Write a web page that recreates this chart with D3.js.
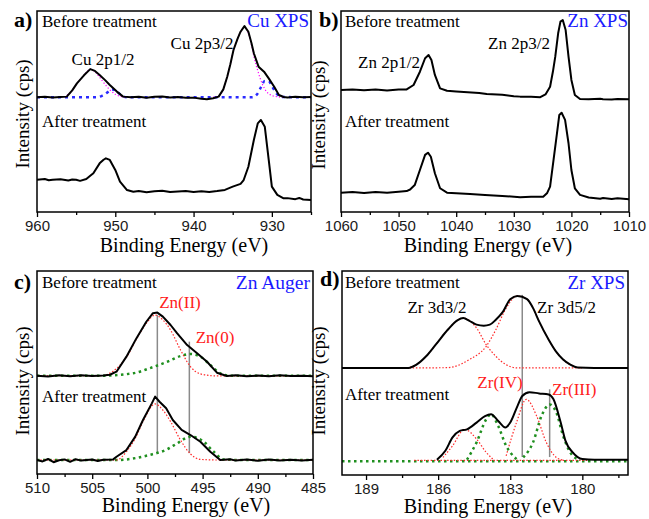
<!DOCTYPE html>
<html>
<head>
<meta charset="utf-8">
<script src="https://cdnjs.cloudflare.com/ajax/libs/d3/7.8.5/d3.min.js"></script>
<style>
  body { margin: 0; background: #fff; }
  svg { display: block; background: #fff; }
  .frame { fill: none; stroke: #000; stroke-width: 1.5px; }
  .spectrum { fill: none; stroke: #000; stroke-width: 2px; stroke-linejoin: round; }
  .fit-magenta { fill: none; stroke: #ff00ff; stroke-width: 1.2px; stroke-dasharray: 1.2 2; }
  .fit-blue { fill: none; stroke: #2a2aff; stroke-width: 2.5px; stroke-dasharray: 3 4; }
  .fit-red { fill: none; stroke: #ff2a2a; stroke-width: 1.2px; stroke-dasharray: 1.5 1.8; }
  .fit-green { fill: none; stroke: #1f8f1f; stroke-width: 2.5px; stroke-dasharray: 2.5 3.5; }
  .marker { stroke: #8a8a8a; stroke-width: 1.5px; }
  .tick line { stroke: #000; stroke-width: 1.3px; }
  .tick text { font-family: Arial, "Liberation Sans", sans-serif; font-size: 15px; fill: #1a1a1a; }
  .serif { font-family: "Times New Roman", "Liberation Serif", serif; fill: #000; }
</style>
</head>
<body>
<svg></svg>
<script>
(function() {

  // ---- a) Cu XPS  [binding energy (eV), intensity (a.u.)]
  const cuBefore = [[960,57.1],[959,57.3],[958,57.0],[957,57.2],[956.2,57.4],[955.5,60.5],[954.9,64.0],[954,68.0],[953.2,71.1],[952.6,70.2],[952,68.2],[951.3,65.6],[950.7,63.2],[949.8,59.9],[949,57.4],[948,57.1],[947,57.3],[946,56.9],[945,57.3],[944,57.5],[943,57.0],[942,57.2],[941,56.8],[940,56.9],[939,56.4],[938.3,56.1],[937.5,56.6],[936.8,57.4],[936.2,61],[935.7,67.3],[935.3,73.5],[934.9,80.6],[934.4,86],[934,89.7],[933.5,92.5],[933,89.7],[932.6,84],[932.3,79.0],[931.7,72.3],[931,69.8],[930.4,66.5],[929.7,62.3],[929.1,58.2],[928.5,57.2],[928,57.0],[927,57.3],[926,57.1],[925,57.2]]
  const cuAfter = [[960,16.0],[959,16.4],[958.5,15.8],[958,16.1],[957,16.3],[956,15.7],[955.5,16.2],[955,16.0],[954.5,15.5],[953.7,16.4],[953.2,18.0],[952.8,19.3],[952,24.2],[951.5,26.0],[951.2,26.7],[950.7,25.9],[950,20.9],[949.4,15.1],[948.5,10.9],[947.7,10.1],[947,10.4],[946,9.8],[945,10.3],[944,10.6],[943,9.9],[942,10.2],[941,10.4],[940,10.0],[939,10.3],[938,9.9],[937,10.4],[936,11.0],[935,12.6],[934,14.0],[933.6,15.9],[933,22.5],[932.3,35.8],[931.8,44.1],[931.4,45.8],[930.9,42.4],[930.4,25.9],[930,12.6],[929.3,8.5],[928.5,6.8],[928,6.9],[927,6.4],[926.5,7.0],[926,6.2],[925,6.0]]
  const cuFit2p1 = [[956.5,57.2],[955.5,60.5],[954.9,64.0],[954,68.0],[953.2,71.0],[952.6,69.8],[952,67.0],[951.3,63.5],[950.7,60.8],[950,58.6],[949.3,57.5],[948.5,57.1]]
  const cuFit2p3 = [[937.5,57.1],[936.8,57.6],[936.2,61],[935.7,67.3],[935.3,73.5],[934.9,80.6],[934.4,86],[934,89.5],[933.5,92.0],[933,89.0],[932.6,83],[932.3,77.5],[931.7,69],[931.2,63.5],[930.7,60],[930,58],[929.2,57.3],[928.5,57.1]]
  const cuSatellite = [[960,57.1],[952.5,57.1],[951.7,57.8],[951,59.5],[950.4,61.0],[949.8,60.0],[949.2,58.0],[948.5,57.1],[932.5,57.1],[931.9,58.5],[931.4,62],[930.9,65.2],[930.4,65.0],[929.9,62],[929.3,58.5],[928.7,57.2],[925,57.1]]

  // ---- b) Zn XPS
  const znBefore = [[1060,60.7],[1058,61.0],[1056,60.6],[1054,61.0],[1052,60.5],[1050,60.9],[1048.6,61.0],[1047.4,63.2],[1046.3,69.8],[1045.4,76.5],[1044.8,78.1],[1044.3,75.6],[1043.7,68.2],[1042.8,61.5],[1041.6,60.3],[1040,60.0],[1038,59.6],[1036,59.2],[1034.7,58.7],[1032,58.3],[1030,57.6],[1028.9,57.4],[1027,57.3],[1025.4,57.1],[1024.5,58.5],[1023.7,62.3],[1023.2,70],[1022.8,77.3],[1022.3,88.9],[1021.9,94.7],[1021.5,95.5],[1021,90.5],[1020.5,77.3],[1020,65.7],[1019.4,58.2],[1018.5,56.2],[1017,56.1],[1015,56.3],[1014.5,56.1],[1013,56.0],[1012,56.2],[1010,56.1]]
  const znAfter = [[1060,9.6],[1058,9.9],[1056,9.4],[1054,10.0],[1052,9.6],[1050,10.1],[1048.6,10.4],[1048,11.2],[1047.2,13.4],[1046.3,20.9],[1045.4,28.4],[1044.9,29.5],[1044.4,27.5],[1043.7,19.3],[1042.8,11.8],[1041.6,9.6],[1040,9.3],[1037.6,9.0],[1035,8.5],[1032,8.0],[1028.9,7.3],[1027,7.6],[1024.9,7.6],[1024.2,9.5],[1023.7,12.6],[1023.1,25.9],[1022.5,39.2],[1022.1,48.3],[1021.7,49.4],[1021.1,45.8],[1020.5,34.2],[1020,20.9],[1019.4,11.8],[1018.5,8.5],[1017,7.2],[1015,6.6],[1014.5,7.0],[1013,6.5],[1012,6.8],[1010,6.3]]

  // ---- c) Zn Auger
  const augerBefore = [[510,48.4],[509,48.0],[508,48.6],[507,48.2],[506,48.7],[505,48.3],[504,48.5],[503.4,48.9],[502.8,50.4],[501.9,57.8],[501,66.8],[500.1,75.0],[499.5,79.2],[499.1,79.5],[498.6,77.5],[497.9,73.4],[497.3,69.3],[496.4,63.5],[495.5,59.5],[494.6,55.3],[493.7,49.9],[492.8,48.3],[492,48.6],[491,48.1],[490,48.5],[489,48.2],[488,48.7],[487,48.3],[486,48.4],[485,48.2]]
  const augerAfter = [[510,6.9],[509.5,6.2],[509,7.4],[508.5,5.8],[508,6.8],[507.5,7.2],[507,6.0],[506.5,7.3],[506,6.6],[505,7.1],[504.5,6.4],[504,7.0],[503.1,7.2],[502.8,8.5],[501.9,11.8],[501.1,18.4],[500.4,26.6],[499.6,34.8],[499.3,38.1],[498.9,35.6],[498.3,32.4],[497.7,26.6],[496.9,21.7],[496.1,19.2],[495.2,15.9],[494.3,11.0],[493.4,6.9],[492.5,7.3],[492,6.6],[491,7.1],[490,6.5],[489,7.2],[488,6.7],[487,7.0],[486,6.6],[485,7.0]]
  const augerZn2Before = [[510,48.4],[504.3,48.4],[501.9,57.5],[501,66.4],[500.1,74.2],[499.3,78.3],[498.6,75.9],[497.9,70.9],[497.0,61.1],[496.1,52.9],[495.2,49.3],[493.7,48.3],[485,48.3]]
  const augerZn0Before = [[510,48.4],[504.3,48.4],[501.3,49.6],[499.8,52.1],[498.2,55.3],[497.0,58.1],[496.1,59.1],[495.2,57.8],[494.3,53.7],[493.4,49.6],[492.5,48.4],[485,48.4]]
  const augerZn2After = [[510,6.9],[502.8,6.9],[501.9,11.0],[501.1,17.6],[500.4,25.8],[499.3,34.5],[498.6,31.5],[497.9,25.8],[497.0,16.7],[496.1,9.9],[495.2,7.2],[493.7,6.9],[485,6.9]]
  const augerZn0After = [[510,6.9],[502.8,6.9],[499.8,9.4],[498.2,12.2],[497.3,15.1],[496.1,18.4],[494.9,15.9],[494,11.0],[493.1,7.2],[491.6,6.9],[485,6.9]]
  const augerMarkers = [[499.1,78.3,10.3],[496.2,65.2,10.3]]

  // ---- d) Zr XPS
  const zrBefore = [[190,52.5],[189,52.5],[188,52.5],[187.24,52.5],[186.9,54.1],[186.5,58.2],[186.1,63.9],[185.6,71.2],[185.2,75.8],[184.95,76.9],[184.7,75.6],[184.4,73.7],[184.1,73.2],[183.85,73.7],[183.6,76.1],[183.3,80.1],[183.0,86.2],[182.7,87.8],[182.3,86.2],[182.05,81.8],[181.8,75.3],[181.4,66.3],[181.1,60.6],[180.8,56.6],[180.5,54.1],[180.2,52.7],[179.5,52.5],[178.1,52.5]]
  const zrAfter = [[186.05,7.5],[185.7,11.9],[185.4,18.4],[185.1,21.6],[184.8,22.4],[184.4,25.7],[184.05,28.9],[183.8,29.8],[183.5,26.5],[183.2,23.3],[183.0,25.7],[182.7,33.8],[182.5,38.7],[182.2,40.6],[181.8,40.0],[181.4,39.5],[181.2,37.1],[180.9,25.7],[180.7,16.7],[180.4,11.1],[180.0,7.8],[179.5,7.5],[178.1,7.5]]
  const zr3d3Before = [[187.3,52.5],[186.9,54.1],[186.5,58.2],[186.1,63.9],[185.6,71.2],[185.2,75.8],[184.95,76.9],[184.4,72.0],[184.0,63.9],[183.6,58.2],[183.17,54.1],[182.7,52.5],[180.1,52.5]]
  const zr3d5Before = [[187.2,52.5],[185.6,52.6],[185.37,53.0],[184.7,56.6],[184.0,63.1],[183.6,71.2],[183.17,81.8],[182.7,87.8],[182.3,86.2],[182.05,81.8],[181.8,75.3],[181.4,66.3],[181.1,60.6],[180.8,56.6],[180.5,54.1],[180.2,52.7],[180.0,52.5]]
  const zrIVAfter1 = [[185.8,8.6],[185.4,14.3],[184.9,22.4],[184.4,17.6],[184.0,11.1],[183.7,7.5]]
  const zrIVAfter2 = [[183.17,9.4],[182.74,25.7],[182.33,37.1],[181.9,28.9],[181.5,16.0],[181.08,8.6],[180.8,7.3]]
  const zrIIIAfter1 = [[184.8,7.5],[184.4,16.0],[184.0,27.3],[183.8,29.8],[183.5,24.0],[183.17,14.3],[182.74,7.8]]
  const zrIIIAfter2 = [[182.46,8.6],[182.05,16.0],[181.7,28.9],[181.36,34.6],[181.08,30.6],[180.8,19.2],[180.4,9.4],[180.1,7.5]]
  const zrRedBase = [[187,7.2],[179.8,7.2]]
  const zrGreenBase = [[190,6.8],[178.1,6.8]]
  const zrMarkers = [[182.5,88.3,8.8],[181.36,42.0,8.8]]

  // ---- tick labels
  const cuTicks = [960, 950, 940, 930]
  const cuMinor = [955, 945, 935, 925]
  const znTicks = [1060, 1050, 1040, 1030, 1020, 1010]
  const znMinor = [1055, 1045, 1035, 1025, 1015]
  const augerTicks = [510, 505, 500, 495, 490, 485]
  const augerMinor = [507.5, 502.5, 497.5, 492.5, 487.5]
  const zrTicks = [189, 186, 183, 180]
  const zrMinor = [187.5, 184.5, 181.5, 178.5]

  const svgWidth = 649
  const svgHeight = 519

  const svg = d3.select('svg')
    .attr('width', svgWidth)
    .attr('height', svgHeight)

  const panels = [
    {
      id: 'a', left: 37, right: 311, top: 11, bottom: 212, domain: [960, 925],
      ticks: cuTicks, minor: cuMinor, titleX: 184, titleY: 252, yTitleX: 29, yTitleY: 114,
      lines: [
        {data: cuSatellite, cls: 'fit-blue'},
        {data: cuFit2p1, cls: 'fit-magenta'},
        {data: cuFit2p3, cls: 'fit-magenta'},
        {data: cuBefore, cls: 'spectrum', smooth: false},
        {data: cuAfter, cls: 'spectrum', smooth: false}
      ],
      markers: [],
      texts: [
        {t: 'a)', x: 14, y: 27, size: 22, bold: true},
        {t: 'Before treatment', x: 42, y: 27, size: 17},
        {t: 'Cu XPS', x: 309, y: 27, size: 19, anchor: 'end', color: '#1a1aff'},
        {t: 'Cu 2p1/2', x: 103, y: 65, size: 17, anchor: 'middle'},
        {t: 'Cu 2p3/2', x: 202, y: 49, size: 17, anchor: 'middle'},
        {t: 'After treatment', x: 42, y: 127, size: 17}
      ]
    },
    {
      id: 'b', left: 341, right: 629, top: 11, bottom: 212, domain: [1060, 1010],
      ticks: znTicks, minor: znMinor, titleX: 488, titleY: 252, yTitleX: 325, yTitleY: 115,
      lines: [
        {data: znBefore, cls: 'spectrum', smooth: false},
        {data: znAfter, cls: 'spectrum', smooth: false}
      ],
      markers: [],
      texts: [
        {t: 'b)', x: 319, y: 27, size: 22, bold: true},
        {t: 'Before treatment', x: 345, y: 27, size: 17},
        {t: 'Zn XPS', x: 628, y: 27, size: 19, anchor: 'end', color: '#1a1aff'},
        {t: 'Zn 2p1/2', x: 389, y: 68, size: 17, anchor: 'middle'},
        {t: 'Zn 2p3/2', x: 519, y: 49, size: 17, anchor: 'middle'},
        {t: 'After treatment', x: 345, y: 127, size: 17}
      ]
    },
    {
      id: 'c', left: 37, right: 313, top: 271, bottom: 474, domain: [510, 485],
      ticks: augerTicks, minor: augerMinor, titleX: 186, titleY: 512, yTitleX: 29, yTitleY: 381,
      lines: [
        {data: augerZn0Before, cls: 'fit-green'},
        {data: augerZn0After, cls: 'fit-green'},
        {data: augerZn2Before, cls: 'fit-red'},
        {data: augerZn2After, cls: 'fit-red'},
        {data: augerBefore, cls: 'spectrum', smooth: false},
        {data: augerAfter, cls: 'spectrum', smooth: false}
      ],
      markers: augerMarkers,
      texts: [
        {t: 'c)', x: 14, y: 289, size: 22, bold: true},
        {t: 'Before treatment', x: 42, y: 288, size: 17},
        {t: 'Zn Auger', x: 310, y: 289, size: 19.5, anchor: 'end', color: '#1a1aff'},
        {t: 'Zn(II)', x: 180, y: 308, size: 17, anchor: 'middle', color: '#ff2020'},
        {t: 'Zn(0)', x: 215, y: 343, size: 17, anchor: 'middle', color: '#ff2020'},
        {t: 'After treatment', x: 42, y: 402, size: 17}
      ]
    },
    {
      id: 'd', left: 342, right: 628, top: 271, bottom: 475, domain: [190, 178.1],
      ticks: zrTicks, minor: zrMinor, titleX: 488, titleY: 513, yTitleX: 325, yTitleY: 381,
      lines: [
        {data: zrGreenBase, cls: 'fit-green'},
        {data: zrRedBase, cls: 'fit-red'},
        {data: zr3d3Before, cls: 'fit-red'},
        {data: zr3d5Before, cls: 'fit-red'},
        {data: zrIVAfter1, cls: 'fit-red'},
        {data: zrIVAfter2, cls: 'fit-red'},
        {data: zrIIIAfter1, cls: 'fit-green'},
        {data: zrIIIAfter2, cls: 'fit-green'},
        {data: zrBefore, cls: 'spectrum', smooth: true},
        {data: zrAfter, cls: 'spectrum', smooth: true}
      ],
      markers: zrMarkers,
      texts: [
        {t: 'd)', x: 320, y: 286, size: 22, bold: true},
        {t: 'Before treatment', x: 345, y: 288, size: 17},
        {t: 'Zr XPS', x: 625, y: 289, size: 19, anchor: 'end', color: '#1a1aff'},
        {t: 'Zr 3d3/2', x: 437, y: 313, size: 17, anchor: 'middle'},
        {t: 'Zr 3d5/2', x: 537, y: 313, size: 17},
        {t: 'Zr(IV)', x: 500, y: 388, size: 17, anchor: 'middle', color: '#ff2020'},
        {t: 'Zr(III)', x: 552, y: 395, size: 17, color: '#ff2020'},
        {t: 'After treatment', x: 345, y: 400, size: 17}
      ]
    }
  ]

  panels.forEach(drawPanel)

  function drawPanel (p) {
    const x = d3.scaleLinear()
      .domain(p.domain)
      .range([p.left, p.right])

    const y = d3.scaleLinear()
      .domain([0, 100])
      .range([p.bottom, p.top])

    const g = svg.append('g')
      .attr('class', 'panel-' + p.id)

    const clipId = 'clip-' + p.id
    g.append('clipPath')
      .attr('id', clipId)
      .append('rect')
      .attr('x', p.left)
      .attr('y', p.top)
      .attr('width', p.right - p.left)
      .attr('height', p.bottom - p.top)

    const plot = g.append('g')
      .attr('clip-path', `url(#${clipId})`)

    const smoothLine = d3.line()
      .x(d => x(d[0]))
      .y(d => y(d[1]))
      .curve(d3.curveMonotoneX)

    const rawLine = d3.line()
      .x(d => x(d[0]))
      .y(d => y(d[1]))

    // vertical marker lines
    plot.selectAll('.marker')
      .data(p.markers)
      .enter()
      .append('line')
      .attr('class', 'marker')
      .attr('x1', d => x(d[0]))
      .attr('x2', d => x(d[0]))
      .attr('y1', d => y(d[1]))
      .attr('y2', d => y(d[2]))

    plot.selectAll('.curve')
      .data(p.lines)
      .enter()
      .append('path')
      .attr('class', d => 'curve ' + d.cls)
      .attr('d', d => (d.smooth === false ? rawLine : smoothLine)(d.data))

    // axes: major + minor ticks, pointing out of the frame
    g.append('g')
      .attr('transform', `translate(0,${p.bottom})`)
      .call(d3.axisBottom(x).tickValues(p.ticks).tickSize(5).tickPadding(3).tickFormat(d3.format('d')))
      .call(a => a.select('.domain').remove())

    g.append('g')
      .attr('transform', `translate(0,${p.bottom})`)
      .call(d3.axisBottom(x).tickValues(p.minor).tickSize(3).tickFormat(''))
      .call(a => a.select('.domain').remove())

    g.append('rect')
      .attr('class', 'frame')
      .attr('x', p.left)
      .attr('y', p.top)
      .attr('width', p.right - p.left)
      .attr('height', p.bottom - p.top)

    g.append('text')
      .attr('class', 'serif')
      .attr('x', p.titleX)
      .attr('y', p.titleY)
      .attr('text-anchor', 'middle')
      .style('font-size', '20px')
      .text('Binding Energy (eV)')

    g.append('text')
      .attr('class', 'serif')
      .attr('transform', `translate(${p.yTitleX},${p.yTitleY}) rotate(-90)`)
      .attr('text-anchor', 'middle')
      .style('font-size', '19px')
      .text('Intensity (cps)')

    g.selectAll('.label')
      .data(p.texts)
      .enter()
      .append('text')
      .attr('class', 'label serif')
      .attr('x', d => d.x)
      .attr('y', d => d.y)
      .attr('text-anchor', d => d.anchor || 'start')
      .style('font-size', d => d.size + 'px')
      .style('font-weight', d => d.bold ? 'bold' : 'normal')
      .style('fill', d => d.color || '#000')
      .text(d => d.t)
  }
})()
</script>
</body>
</html>
